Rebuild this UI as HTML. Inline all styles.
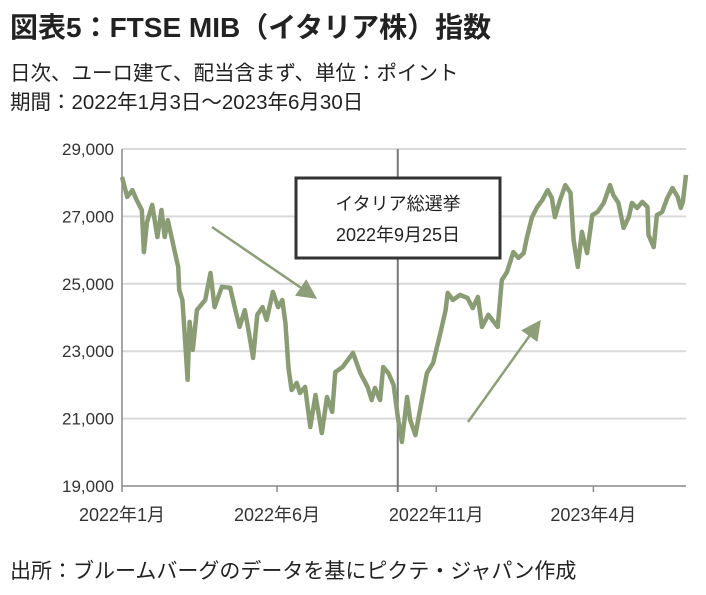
<!DOCTYPE html>
<html><head><meta charset="utf-8">
<style>
body{margin:0;background:#fff;width:706px;height:595px;overflow:hidden;font-family:"Liberation Sans","Noto Sans CJK JP",sans-serif;color:#222}
.t{position:absolute;left:10px;white-space:nowrap}
</style></head><body>
<div class="t" style="top:6px;font-size:28px;font-weight:bold;letter-spacing:0px">図表5：FTSE MIB（イタリア株）指数</div>
<div class="t" style="top:56px;font-size:20.5px">日次、ユーロ建て、配当含まず、単位：ポイント</div>
<div class="t" style="top:85px;font-size:20.5px">期間：2022年1月3日～2023年6月30日</div>
<div class="t" style="top:555px;font-size:21px">出所：ブルームバーグのデータを基にピクテ・ジャパン作成</div>
<svg id="chart" width="706" height="595" style="position:absolute;left:0;top:0" font-family="Liberation Sans, Noto Sans CJK JP, sans-serif"></svg>
<script>
const yTicks=[19000,21000,23000,25000,27000,29000];
const xTickDays=[0,149,302,453];
const xTickLabels=["2022年1月","2022年6月","2022年11月","2023年4月"];
const days=[0,5,10,14,19,21,24,29,34,38,41,44,51,54,55,58,61,63,65,68,72,80,85,89,96,104,109,113,118,121,126,130,135,139,145,150,154,157,160,163,168,171,176,181,186,192,197,202,205,212,217,222,229,236,240,243,248,251,256,261,265,269,274,277,282,287,293,299,306,311,313,318,325,332,337,342,346,352,361,365,370,376,381,386,389,394,399,404,409,413,416,421,426,431,434,438,442,447,452,457,463,469,472,477,482,487,490,495,500,505,506,511,514,519,524,529,534,537,539,542];
const values=[28170,27580,27780,27490,27190,25940,26830,27340,26390,27190,26390,26890,25910,25500,24820,24520,23130,22150,23870,23040,24220,24520,25320,24310,24910,24880,24220,23720,24220,23720,22800,24080,24310,23930,24760,24310,24520,23840,22500,21850,22060,21760,21940,20750,21700,20570,21640,21200,22380,22530,22740,22950,22350,21940,21550,21910,21550,22530,22350,22000,21050,20310,21640,20960,20510,21350,22350,22650,23540,24220,24730,24520,24670,24580,24280,24610,23720,24080,23720,25110,25350,25940,25770,25910,26360,26980,27280,27490,27780,27550,26980,27490,27930,27700,26300,25500,26540,25910,27040,27130,27400,27930,27640,27400,26660,26980,27400,27250,27430,27280,26450,26090,27040,27130,27550,27840,27580,27250,27430,28230];
const electionDay=265;
const NS="http://www.w3.org/2000/svg";
const svg=document.getElementById('chart');
const X0=122,X1=686,Y0=486,Y1=149,DMAX=542;
const xs=d=>X0+(X1-X0)*d/DMAX;
const ys=v=>Y0-(Y0-Y1)*(v-19000)/10000;
function mk(tag,attrs){const e=document.createElementNS(NS,tag);for(const k in attrs)e.setAttribute(k,attrs[k]);svg.appendChild(e);return e;}
yTicks.forEach(v=>{
  const g=mk('line',{x1:X0,x2:X1,y1:ys(v),y2:ys(v),stroke:v===19000?'#888':'#d9d9d9','stroke-width':v===19000?1.5:2});
  
  
  const t=mk('text',{x:114,y:ys(v)+6,'text-anchor':'end','font-size':17,fill:'#333'});
  t.textContent=v.toLocaleString('en-US');
  
  
});
const ax=mk('line',{x1:X0,x2:X0,y1:Y1,y2:Y0,stroke:'#888','stroke-width':1.5});


xTickDays.forEach((d,i)=>{
  const tk=mk('line',{x1:xs(d),x2:xs(d),y1:Y0,y2:Y0+6,stroke:'#888','stroke-width':1.5});
  
  
  const t=mk('text',{x:xs(d),y:521,'text-anchor':'middle','font-size':18,fill:'#333'});
  t.textContent=xTickLabels[i];
  
  
});
const el=mk('line',{x1:xs(electionDay),x2:xs(electionDay),y1:Y1,y2:Y0+6,stroke:'#777','stroke-width':2});


const pts=days.map((d,i)=>xs(d).toFixed(1)+','+ys(values[i]).toFixed(1)).join(' ');
const pl=mk('polyline',{points:pts,fill:'none',stroke:'#8a9c74','stroke-width':4.5,'stroke-linejoin':'round'});


const defs=mk('defs',{});
defs.innerHTML='<marker id="ah" markerWidth="20" markerHeight="20" refX="6" refY="4" orient="auto" markerUnits="userSpaceOnUse" viewBox="0 0 8 8"><path d="M0,0 L8,4 L0,8z" fill="#8d9e78"/></marker>';
const a1=mk('line',{x1:212,y1:227,x2:313,y2:296,stroke:'#8d9e78','stroke-width':2.5,'marker-end':'url(#ah)'});


const a2=mk('line',{x1:468,y1:422,x2:538,y2:324,stroke:'#8d9e78','stroke-width':2.5,'marker-end':'url(#ah)'});


const box=mk('rect',{x:296,y:178,width:204,height:80,fill:'#fff',stroke:'#333','stroke-width':3});


const l1=mk('text',{x:398,y:210,'text-anchor':'middle','font-size':18,fill:'#222'});
l1.textContent='イタリア総選挙';


const l2=mk('text',{x:398,y:241,'text-anchor':'middle','font-size':18,fill:'#222'});
l2.textContent='2022年9月25日';


</script>
</body></html>
